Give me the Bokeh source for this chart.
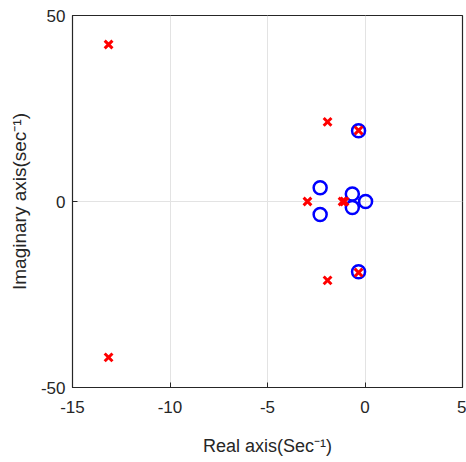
from bokeh.plotting import figure
from bokeh.embed import file_html
from bokeh.resources import INLINE
from bokeh.models import FixedTicker, Range1d

# Poles (x markers)
pole_re = [-13.15, -13.15, -1.92, -1.92, -0.33, -0.33, -2.95, -1.05, -1.15]
pole_im = [42.2, -41.9, 21.4, -21.2, 19.1, -19.1, 0.0, 0.0, 0.0]
# Zeros (o markers)
zero_re = [-0.33, -0.33, -2.3, -2.3, -0.65, -0.65, 0.03]
zero_im = [19.0, -18.9, 3.7, -3.5, 2.0, -1.6, 0.0]

x_ticks = [-15, -10, -5, 0, 5]
y_ticks = [-50, 0, 50]

FONT = "Liberation Sans"

p = figure(width=466, height=462, output_backend="svg", toolbar_location=None,
           x_range=Range1d(-15, 5), y_range=Range1d(-50, 50),
           min_border_left=72, min_border_right=4, min_border_top=15, min_border_bottom=75)
p.outline_line_color = "#262626"
p.outline_line_width = 1.2

for ax, ticks in ((p.xaxis[0], x_ticks), (p.yaxis[0], y_ticks)):
    ax.ticker = FixedTicker(ticks=ticks)
    ax.major_label_overrides = {t: str(t) for t in ticks}
    ax.major_tick_in = 5
    ax.major_tick_out = 0
    ax.minor_tick_line_color = None
    ax.axis_line_color = "#262626"
    ax.major_tick_line_color = "#262626"
    ax.major_label_text_font = FONT
    ax.major_label_text_font_size = "17px"
    ax.major_label_text_color = "#262626"
    ax.axis_label_text_font = FONT
    ax.axis_label_text_font_size = "18px"
    ax.axis_label_text_font_style = "normal"
    ax.axis_label_text_color = "#262626"

p.xaxis.axis_label = "Real axis(Sec\u207b\u00b9)"
p.yaxis.axis_label = "Imaginary axis(sec\u207b\u00b9)"
p.yaxis.axis_label_text_font_size = "19px"
p.xaxis.major_label_standoff = 13
p.yaxis.major_label_standoff = 7
p.xaxis.axis_label_standoff = 20
p.yaxis.axis_label_standoff = 8

p.xgrid.ticker = FixedTicker(ticks=x_ticks)
p.ygrid.ticker = FixedTicker(ticks=y_ticks)
p.grid.grid_line_color = "#e3e3e3"
p.grid.grid_line_width = 1

p.scatter(zero_re, zero_im, marker="circle", size=13, fill_color=None,
          line_color="#0000ff", line_width=2.5)
p.scatter(pole_re, pole_im, marker="x", size=11, line_color="#ff0000", line_width=3)

open("out.html", "w").write(file_html(p, INLINE))
